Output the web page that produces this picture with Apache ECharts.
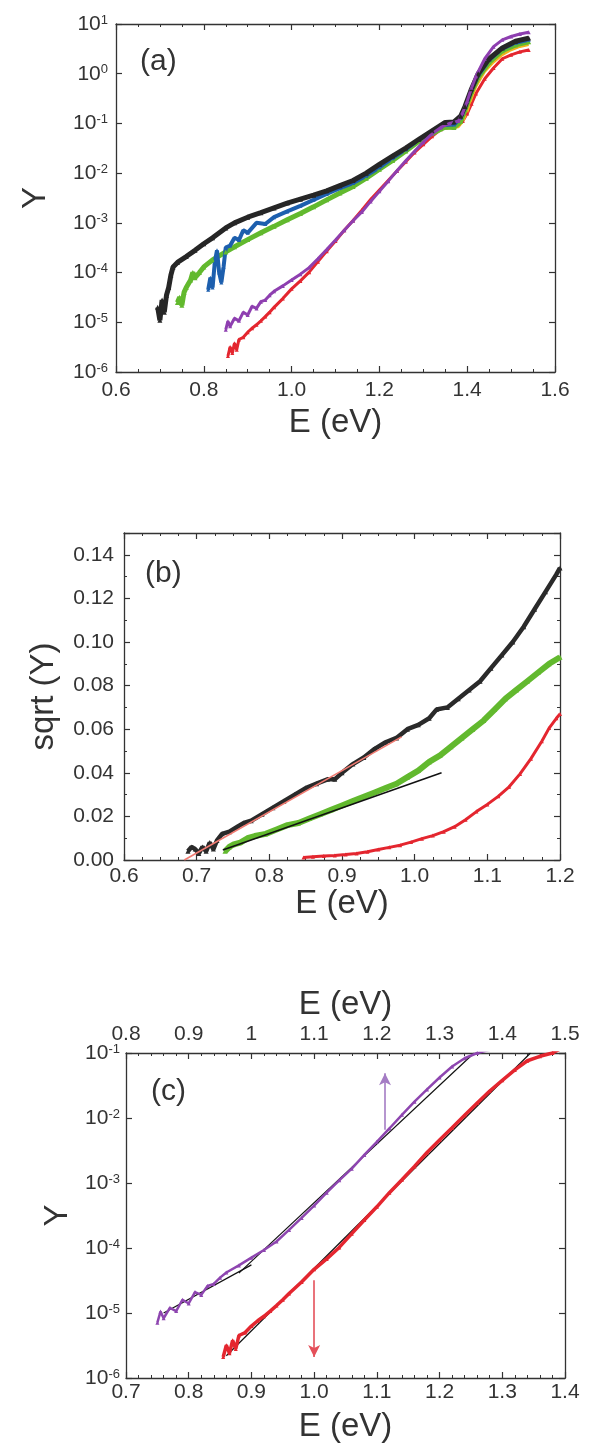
<!DOCTYPE html>
<html>
<head>
<meta charset="utf-8">
<script src="https://cdn.jsdelivr.net/npm/echarts@6/dist/echarts.min.js"></script>
<style>
html, body { margin: 0; padding: 0; background: #fff; }
#chart { width: 589px; height: 1447px; }
</style>
</head>
<body>
<div id="chart"></div>
<script>
// panel (a): Y against E, log scale
let aBlackE = [0.695,0.700,0.705,0.710,0.715,0.720,0.725,0.730,0.740,0.760,0.780,0.800,0.820,0.850,0.870,0.900,0.930,0.960,0.990,1.020,1.050,1.080,1.110,1.140,1.170,1.200,1.230,1.260,1.290,1.320,1.350,1.370,1.385,1.395,1.410,1.425,1.450,1.480,1.510,1.540];
let aBlackY = [2.0e-5,1.1e-5,2.8e-5,1.6e-5,3.5e-5,5.0e-5,8.9e-5,1.3e-4,1.6e-4,2.1e-4,2.8e-4,3.8e-4,5.0e-4,7.9e-4,1.0e-3,1.3e-3,1.6e-3,2.0e-3,2.5e-3,3.0e-3,3.6e-3,4.4e-3,5.6e-3,7.1e-3,1.0e-2,1.5e-2,2.2e-2,3.2e-2,4.8e-2,7.1e-2,1.05e-1,1.07e-1,1.4e-1,2.2e-1,5.0e-1,1.0,2.0,3.3,4.5,5.2];

let aBlueE = [0.810,0.815,0.820,0.825,0.830,0.835,0.840,0.845,0.850,0.860,0.870,0.880,0.890,0.900,0.920,0.940,0.960,0.990,1.020,1.050,1.080,1.110,1.140,1.170,1.200,1.230,1.260,1.290,1.320,1.350,1.370,1.385,1.395,1.410,1.425,1.450,1.480,1.510,1.540];
let aBlueY = [4.5e-5,7.9e-5,5.0e-5,1.6e-4,2.8e-4,1.0e-4,6.3e-5,1.3e-4,3.2e-4,3.5e-4,5.0e-4,4.5e-4,7.1e-4,6.3e-4,1.0e-3,9.5e-4,1.3e-3,1.7e-3,2.2e-3,2.9e-3,3.8e-3,5.0e-3,6.3e-3,8.9e-3,1.3e-2,2.0e-2,3.0e-2,4.7e-2,6.9e-2,9.3e-2,9.5e-2,0.13,0.21,0.48,0.93,1.9,3.2,4.2,4.8];

let aGreenE = [0.740,0.745,0.750,0.755,0.760,0.770,0.775,0.780,0.790,0.800,0.820,0.850,0.870,0.900,0.930,0.960,0.990,1.020,1.050,1.080,1.110,1.140,1.170,1.200,1.230,1.260,1.290,1.320,1.350,1.370,1.385,1.395,1.410,1.425,1.450,1.480,1.510,1.540];
let aGreenY = [2.5e-5,3.2e-5,2.2e-5,4.0e-5,5.0e-5,7.1e-5,1.0e-4,7.9e-5,1.0e-4,1.3e-4,1.8e-4,2.6e-4,3.3e-4,4.6e-4,6.3e-4,8.5e-4,1.15e-3,1.55e-3,2.1e-3,2.9e-3,4.0e-3,5.4e-3,7.9e-3,1.2e-2,1.8e-2,2.8e-2,4.4e-2,6.3e-2,8.5e-2,8.3e-2,0.11,0.19,0.44,0.85,1.7,2.9,3.8,4.4];

let aOrangeE = [1.30,1.32,1.34,1.36,1.38,1.39,1.40,1.41,1.42,1.44,1.46,1.48,1.50,1.52,1.54];
let aOrangeY = [5.0e-2,6.6e-2,7.8e-2,8.0e-2,8.5e-2,0.11,0.17,0.32,0.55,1.1,1.7,2.4,3.0,3.5,3.8];

let aPurpleE = [0.850,0.855,0.860,0.870,0.880,0.890,0.900,0.910,0.920,0.930,0.940,0.950,0.960,0.980,1.000,1.020,1.040,1.060,1.080,1.100,1.120,1.140,1.160,1.180,1.200,1.220,1.240,1.260,1.280,1.300,1.320,1.340,1.360,1.380,1.390,1.400,1.410,1.420,1.440,1.460,1.480,1.500,1.520,1.540];
let aPurpleY = [7.1e-6,1.05e-5,8.3e-6,1.2e-5,1.07e-5,1.6e-5,1.4e-5,2.1e-5,1.9e-5,2.6e-5,2.8e-5,3.5e-5,4.2e-5,5.4e-5,7.1e-5,9.3e-5,1.26e-4,1.9e-4,2.9e-4,4.5e-4,7.1e-4,1.1e-3,1.66e-3,2.7e-3,4.3e-3,6.9e-3,1.12e-2,1.78e-2,2.75e-2,4.2e-2,6.2e-2,8.3e-2,0.10,0.112,0.166,0.28,0.52,0.89,2.0,3.5,4.8,5.6,6.3,6.8];

let aRedE = [0.855,0.860,0.865,0.870,0.875,0.880,0.890,0.900,0.910,0.920,0.930,0.940,0.950,0.960,0.980,1.000,1.020,1.040,1.060,1.080,1.100,1.120,1.140,1.160,1.180,1.200,1.220,1.240,1.260,1.280,1.300,1.320,1.340,1.360,1.380,1.390,1.400,1.410,1.420,1.440,1.460,1.480,1.500,1.520,1.540];
let aRedY = [2.1e-6,3.2e-6,2.4e-6,3.8e-6,2.8e-6,4.5e-6,5.0e-6,6.3e-6,7.6e-6,8.9e-6,1.07e-5,1.3e-5,1.6e-5,2.0e-5,3.0e-5,4.7e-5,6.8e-5,1.02e-4,1.66e-4,2.7e-4,4.3e-4,7.1e-4,1.12e-3,1.8e-3,2.95e-3,4.6e-3,7.1e-3,1.1e-2,1.7e-2,2.6e-2,3.8e-2,5.5e-2,7.6e-2,8.9e-2,0.10,0.112,0.158,0.25,0.40,0.79,1.3,2.0,2.4,2.75,3.0];

// panel (b): sqrt(Y) against E
let bBlackE = [0.688,0.693,0.698,0.703,0.708,0.713,0.718,0.723,0.728,0.735,0.745,0.755,0.765,0.775,0.790,0.805,0.820,0.835,0.850,0.865,0.880,0.890,0.900,0.915,0.930,0.945,0.960,0.975,0.990,1.005,1.020,1.030,1.045,1.060,1.075,1.090,1.105,1.120,1.135,1.150,1.165,1.180,1.195,1.200];
let bBlackY = [0.004,0.006,0.005,0.003,0.006,0.004,0.008,0.005,0.009,0.012,0.013,0.015,0.017,0.018,0.021,0.024,0.027,0.030,0.033,0.035,0.037,0.037,0.040,0.044,0.047,0.051,0.054,0.056,0.060,0.062,0.065,0.069,0.070,0.074,0.078,0.082,0.088,0.094,0.100,0.107,0.115,0.123,0.131,0.134];

let bGreenE = [0.739,0.745,0.750,0.760,0.770,0.780,0.795,0.810,0.825,0.840,0.855,0.870,0.885,0.900,0.915,0.930,0.945,0.960,0.975,0.990,1.005,1.020,1.035,1.050,1.065,1.080,1.095,1.110,1.125,1.140,1.155,1.170,1.185,1.200];
let bGreenY = [0.004,0.006,0.007,0.008,0.010,0.011,0.012,0.014,0.016,0.017,0.019,0.021,0.023,0.025,0.027,0.029,0.031,0.033,0.035,0.038,0.041,0.045,0.048,0.052,0.056,0.060,0.064,0.069,0.074,0.078,0.082,0.086,0.090,0.093];

let bRedE = [0.847,0.860,0.875,0.890,0.905,0.920,0.935,0.950,0.965,0.980,0.995,1.010,1.025,1.040,1.055,1.070,1.085,1.100,1.115,1.130,1.145,1.160,1.175,1.185,1.195,1.200];
let bRedY = [0.0012,0.0015,0.0018,0.0021,0.0025,0.0030,0.0038,0.0048,0.0058,0.0068,0.0082,0.0098,0.0112,0.0130,0.0153,0.0185,0.0222,0.0255,0.0292,0.0336,0.0395,0.0465,0.0545,0.0605,0.0650,0.0670];

let bBlackFitE = [0.683, 0.982];
let bBlackFitY = [0.0, 0.0565];
let bGreenFitE = [0.736, 1.037];
let bGreenFitY = [0.0046, 0.040];

// panel (c): purple against the top E axis, red against the bottom one
let cRedFitE = [0.860, 1.345];
let cRedFitY = [2.2e-6, 0.1];
let cPurpleFitLowE = [0.860, 1.000];
let cPurpleFitLowY = [1.0e-5, 5.5e-5];
let cPurpleFitHighE = [0.980, 1.355];
let cPurpleFitHighY = [4.1e-5, 0.1];
let cPurpleArrow = [[1.213, 6.6e-3], [1.213, 4.9e-2]];
let cRedArrow = [[1.0, 3.2e-5], [1.0, 2.1e-6]];

let font = "'Liberation Sans', Arial, sans-serif";
let ink = "#333";
let name_style = {fontSize: 33, fontFamily: font, color: ink};

function pairs(xs, ys)
{
    let out = [];
    for (let i = 0; i < xs.length; i++)
    {
        out.push([xs[i], ys[i]]);
    }
    return out;
}

function one_decimal(v) { return v.toFixed(1); }
function two_decimals(v) { return v.toFixed(2); }
function short_number(v) { return String(Math.round(v * 10) / 10); }
function power_label(v) { return '{b|10}{s|' + Math.round(Math.log10(v)) + '}'; }

function axis_common(grid, position, labels, margin)
{
    return {
        gridIndex: grid,
        position: position,
        axisLine: {show: true, onZero: false, lineStyle: {color: ink, width: 1.3}},
        axisTick: {show: true, inside: true, length: 6, lineStyle: {color: ink, width: 1.2}},
        splitLine: {show: false},
        axisLabel: {
            show: labels, margin: margin, color: ink, fontSize: 21, fontFamily: font,
            showMaxLabel: true, showMinLabel: true
        }
    };
}

function value_axis(grid, position, min, max, interval, minor, labels, formatter, margin)
{
    let axis = axis_common(grid, position, labels, margin);
    axis.type = 'value';
    axis.min = min;
    axis.max = max;
    axis.interval = interval;
    axis.minorTick = {show: minor > 0, splitNumber: minor, length: 3, lineStyle: {color: ink, width: 1}};
    axis.axisLabel.formatter = formatter;
    return axis;
}

function log_axis(grid, position, min, max, labels, margin)
{
    let axis = axis_common(grid, position, labels, margin);
    axis.type = 'log';
    axis.logBase = 10;
    axis.min = min;
    axis.max = max;
    axis.axisLabel.formatter = power_label;
    axis.axisLabel.rich = {
        b: {fontSize: 21, fontFamily: font, color: ink},
        s: {fontSize: 13, fontFamily: font, color: ink, verticalAlign: 'top', lineHeight: 13}
    };
    return axis;
}

function with_name(axis, name, gap)
{
    axis.name = name;
    axis.nameLocation = 'middle';
    axis.nameGap = gap;
    axis.nameTextStyle = name_style;
    return axis;
}

function curve(x_index, y_index, xs, ys, colour, width, symbol_size, z)
{
    return {
        type: 'line',
        xAxisIndex: x_index,
        yAxisIndex: y_index,
        data: pairs(xs, ys),
        showSymbol: symbol_size > 0,
        symbol: 'triangle',
        symbolSize: symbol_size,
        itemStyle: {color: colour},
        lineStyle: {color: colour, width: width},
        silent: true,
        z: z
    };
}

function arrow(points, colour)
{
    return {
        silent: true,
        symbol: ['none', 'arrow'],
        symbolSize: [9, 12],
        label: {show: false},
        lineStyle: {color: colour, width: 1.6, type: 'solid'},
        data: [[{coord: points[0]}, {coord: points[1]}]]
    };
}

let chart = echarts.init(document.getElementById('chart'));

let purple_c = curve(5, 4, aPurpleE, aPurpleY, '#8e46b0', 2.5, 4, 3);
purple_c.markLine = arrow(cPurpleArrow, '#a47cc4');
let red_c = curve(4, 4, aRedE, aRedY, '#e4262f', 3.5, 4, 3);
red_c.markLine = arrow(cRedArrow, '#e4505a');

// the sqrt axis stops at 0.15 without a label there
let sqrt_axis = value_axis(1, 'left', 0, 0.15, 0.02, 2, true, two_decimals, 10);
sqrt_axis.axisLabel.showMaxLabel = false;

let option = {
    animation: false,
    backgroundColor: '#fff',
    grid: [
        {left: 116, top: 24, width: 439, height: 348, outerBoundsMode: 'none'},
        {left: 124, top: 533, width: 436, height: 327, outerBoundsMode: 'none'},
        {left: 126, top: 1053, width: 439, height: 325, outerBoundsMode: 'none'}
    ],
    xAxis: [
        with_name(value_axis(0, 'bottom', 0.6, 1.6, 0.2, 4, true, one_decimal, 8), 'E (eV)', 34),
        value_axis(0, 'top', 0.6, 1.6, 0.2, 4, false, one_decimal, 8),
        with_name(value_axis(1, 'bottom', 0.6, 1.2, 0.1, 4, true, one_decimal, 6), 'E (eV)', 26),
        value_axis(1, 'top', 0.6, 1.2, 0.1, 4, false, one_decimal, 6),
        with_name(value_axis(2, 'bottom', 0.7, 1.4, 0.1, 5, true, one_decimal, 4), 'E (eV)', 32),
        with_name(value_axis(2, 'top', 0.8, 1.5, 0.1, 5, true, short_number, 8), 'E (eV)', 32)
    ],
    yAxis: [
        with_name(log_axis(0, 'left', 1e-6, 10, true, 8), 'Y', 64),
        log_axis(0, 'right', 1e-6, 10, false, 8),
        with_name(sqrt_axis, 'sqrt (Y)', 64),
        value_axis(1, 'right', 0, 0.15, 0.02, 2, false, two_decimals, 10),
        with_name(log_axis(2, 'left', 1e-6, 0.1, true, 6), 'Y', 52),
        log_axis(2, 'right', 1e-6, 0.1, false, 6)
    ],
    graphic: [
        {type: 'text', left: 140, top: 47, style: {text: '(a)', fontSize: 30, fontFamily: font, fill: ink}},
        {type: 'text', left: 145, top: 559, style: {text: '(b)', fontSize: 30, fontFamily: font, fill: ink}},
        {type: 'text', left: 151, top: 1077, style: {text: '(c)', fontSize: 30, fontFamily: font, fill: ink}}
    ],
    series: [
        // (a)
        curve(0, 0, aRedE, aRedY, '#e4262f', 3, 4, 2),
        curve(0, 0, aOrangeE, aOrangeY, '#f2b21c', 2.5, 0, 2),
        curve(0, 0, aGreenE, aGreenY, '#62b92e', 5, 5, 3),
        curve(0, 0, aBlueE, aBlueY, '#1d5fae', 4, 4, 3),
        curve(0, 0, aBlackE, aBlackY, '#262626', 5, 5, 4),
        curve(0, 0, aPurpleE, aPurpleY, '#8e3fb0', 3, 4, 4),
        // (b)
        curve(2, 2, bRedE, bRedY, '#e4262f', 3, 4, 2),
        curve(2, 2, bGreenE, bGreenY, '#62b92e', 6, 5, 2),
        curve(2, 2, bBlackE, bBlackY, '#2a2a2a', 4.5, 5, 2),
        curve(2, 2, bBlackFitE, bBlackFitY, '#f07b72', 1.6, 0, 5),
        curve(2, 2, bGreenFitE, bGreenFitY, '#111', 1.6, 0, 5),
        // (c)
        purple_c,
        red_c,
        curve(4, 4, cRedFitE, cRedFitY, '#111', 1.2, 0, 2),
        curve(5, 4, cPurpleFitLowE, cPurpleFitLowY, '#111', 1.2, 0, 2),
        curve(5, 4, cPurpleFitHighE, cPurpleFitHighY, '#111', 1.2, 0, 2)
    ]
};

chart.setOption(option);
</script>
</body>
</html>
